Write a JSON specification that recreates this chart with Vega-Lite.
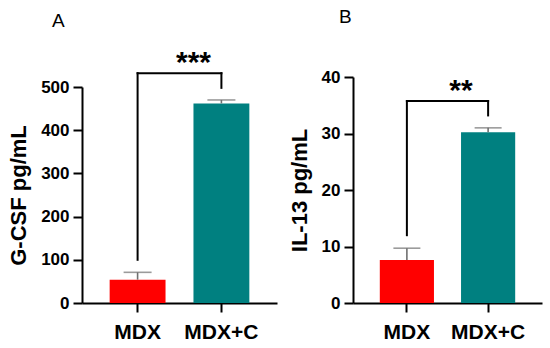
{
  "$schema": "https://vega.github.io/schema/vega-lite/v6.json",
  "background": "white",
  "padding": {"left": 7, "top": 7, "right": 5, "bottom": 5},
  "config": {
    "font": "Liberation Sans",
    "view": {"stroke": null},
    "concat": {"spacing": 11},
    "title": {"anchor": "start", "frame": "group", "fontSize": 19, "fontWeight": "normal", "color": "black"},
    "axis": {
      "domainColor": "black", "domainWidth": 2, "tickColor": "black", "tickWidth": 2, "tickSize": 9,
      "labelColor": "black", "labelFont": "Liberation Sans", "labelFontWeight": "bold",
      "titleColor": "black", "titleFont": "Liberation Sans", "titleFontWeight": "bold", "grid": false
    },
    "axisX": {"labelFontSize": 21, "labelAngle": 0, "labelPadding": 9, "title": null},
    "axisY": {"labelFontSize": 17, "labelPadding": 4, "titleFontSize": 22, "titlePadding": 10}
  },
  "resolve": {"scale": {"y": "independent", "x": "independent", "color": "independent"}},
  "hconcat": [
    {
      "width": 195,
      "height": 226,
      "title": {"text": "A", "dx": -30, "offset": 17},
      "layer": [
        {
          "data": {"values": [
            {"group": "MDX", "mean": 54, "upper": 71},
            {"group": "MDX+C", "mean": 462, "upper": 470}
          ]},
          "layer": [
            {
              "mark": {"type": "bar"},
              "encoding": {
                "x": {"field": "group", "type": "nominal", "sort": ["MDX", "MDX+C"], "scale": {"paddingInner": 0.3333, "paddingOuter": 0.33}},
                "y": {"field": "mean", "type": "quantitative", "scale": {"domain": [0, 500], "nice": false, "range": [226, 10]}, "axis": {"values": [0, 100, 200, 300, 400, 500], "title": "G-CSF pg/mL"}},
                "color": {"field": "group", "type": "nominal", "scale": {"domain": ["MDX", "MDX+C"], "range": ["#FF0000", "#008080"]}, "legend": null}
              }
            },
            {
              "mark": {"type": "rule", "color": "#707070", "strokeWidth": 1.6},
              "encoding": {
                "x": {"field": "group", "type": "nominal", "sort": ["MDX", "MDX+C"]},
                "y": {"field": "mean", "type": "quantitative"},
                "y2": {"field": "upper"}
              }
            },
            {
              "mark": {"type": "tick", "color": "#707070", "thickness": 1.6, "size": 28, "orient": "horizontal"},
              "encoding": {
                "x": {"field": "group", "type": "nominal", "sort": ["MDX", "MDX+C"]},
                "y": {"field": "upper", "type": "quantitative"}
              }
            }
          ]
        },
        {
          "data": {"values": [
            {"from": "MDX", "to": "MDX+C", "y": 532, "left_bottom": 100, "right_bottom": 498, "stars": "***", "star_y": 556}
          ]},
          "layer": [
            {
              "mark": {"type": "rule", "color": "black", "strokeWidth": 2, "strokeCap": "square"},
              "encoding": {
                "x": {"field": "from", "type": "nominal"},
                "x2": {"field": "to"},
                "y": {"field": "y", "type": "quantitative"}
              }
            },
            {
              "mark": {"type": "rule", "color": "black", "strokeWidth": 2, "strokeCap": "square"},
              "encoding": {
                "x": {"field": "from", "type": "nominal"},
                "y": {"field": "left_bottom", "type": "quantitative"},
                "y2": {"field": "y"}
              }
            },
            {
              "mark": {"type": "rule", "color": "black", "strokeWidth": 2, "strokeCap": "square"},
              "encoding": {
                "x": {"field": "to", "type": "nominal"},
                "y": {"field": "right_bottom", "type": "quantitative"},
                "y2": {"field": "y"}
              }
            },
            {
              "mark": {"type": "text", "fontSize": 30, "fontWeight": "bold", "baseline": "middle", "align": "center", "color": "black"},
              "encoding": {
                "x": {"field": "from", "type": "nominal", "bandPosition": 1.5},
                "y": {"field": "star_y", "type": "quantitative"},
                "text": {"field": "stars"}
              }
            }
          ]
        }
      ]
    },
    {
      "width": 189,
      "height": 226,
      "title": {"text": "B", "dx": -14, "offset": 41.5},
      "layer": [
        {
          "data": {"values": [
            {"group": "MDX", "mean": 7.6, "upper": 9.7},
            {"group": "MDX+C", "mean": 30.2, "upper": 31.0}
          ]},
          "layer": [
            {
              "mark": {"type": "bar"},
              "encoding": {
                "x": {"field": "group", "type": "nominal", "sort": ["MDX", "MDX+C"], "scale": {"paddingInner": 0.3333, "paddingOuter": 0.33}},
                "y": {"field": "mean", "type": "quantitative", "scale": {"domain": [0, 40], "nice": false}, "axis": {"values": [0, 10, 20, 30, 40], "title": "IL-13 pg/mL"}},
                "color": {"field": "group", "type": "nominal", "scale": {"domain": ["MDX", "MDX+C"], "range": ["#FF0000", "#008080"]}, "legend": null}
              }
            },
            {
              "mark": {"type": "rule", "color": "#707070", "strokeWidth": 1.6},
              "encoding": {
                "x": {"field": "group", "type": "nominal", "sort": ["MDX", "MDX+C"]},
                "y": {"field": "mean", "type": "quantitative"},
                "y2": {"field": "upper"}
              }
            },
            {
              "mark": {"type": "tick", "color": "#707070", "thickness": 1.6, "size": 27, "orient": "horizontal"},
              "encoding": {
                "x": {"field": "group", "type": "nominal", "sort": ["MDX", "MDX+C"]},
                "y": {"field": "upper", "type": "quantitative"}
              }
            }
          ]
        },
        {
          "data": {"values": [
            {"from": "MDX", "to": "MDX+C", "y": 35.75, "left_bottom": 12, "right_bottom": 33.2, "stars": "**", "star_y": 37.6}
          ]},
          "layer": [
            {
              "mark": {"type": "rule", "color": "black", "strokeWidth": 2, "strokeCap": "square"},
              "encoding": {
                "x": {"field": "from", "type": "nominal"},
                "x2": {"field": "to"},
                "y": {"field": "y", "type": "quantitative"}
              }
            },
            {
              "mark": {"type": "rule", "color": "black", "strokeWidth": 2, "strokeCap": "square"},
              "encoding": {
                "x": {"field": "from", "type": "nominal"},
                "y": {"field": "left_bottom", "type": "quantitative"},
                "y2": {"field": "y"}
              }
            },
            {
              "mark": {"type": "rule", "color": "black", "strokeWidth": 2, "strokeCap": "square"},
              "encoding": {
                "x": {"field": "to", "type": "nominal"},
                "y": {"field": "right_bottom", "type": "quantitative"},
                "y2": {"field": "y"}
              }
            },
            {
              "mark": {"type": "text", "fontSize": 30, "fontWeight": "bold", "baseline": "middle", "align": "center", "color": "black"},
              "encoding": {
                "x": {"field": "from", "type": "nominal", "bandPosition": 1.5},
                "y": {"field": "star_y", "type": "quantitative"},
                "text": {"field": "stars"}
              }
            }
          ]
        }
      ]
    }
  ]
}
